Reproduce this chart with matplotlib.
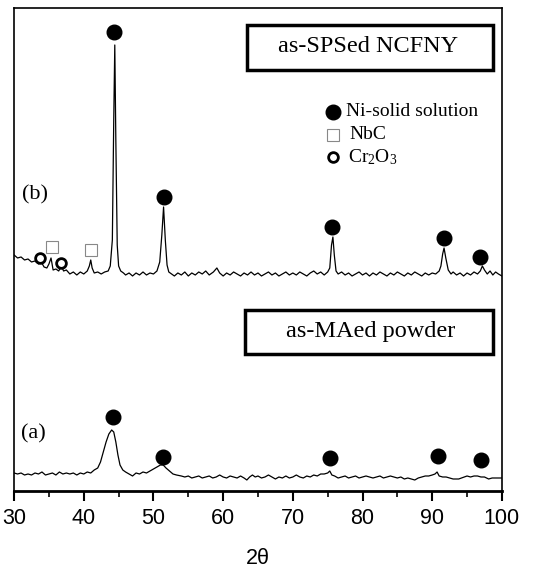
import numpy as np
import matplotlib
matplotlib.use('Agg')
import matplotlib.pyplot as plt
from matplotlib.patches import Rectangle

# --- pattern (b): as-SPSed NCFNY ---
two_theta_b = [30.0, 30.5, 31.0, 31.5, 32.0, 32.5, 33.0, 33.5, 33.9, 34.3, 34.7, 35.0, 35.3, 35.6,
               36.0, 36.4, 36.8, 37.1, 37.5, 38.0, 38.5, 39.0, 39.5, 40.0, 40.5, 40.8, 41.0, 41.2,
               41.5, 42.0, 42.5, 43.0, 43.5, 43.8, 44.1, 44.3, 44.45, 44.6, 44.8, 45.0, 45.3, 45.7,
               46.0, 46.5, 47.0, 47.5, 48.0, 48.5, 49.0, 49.5, 50.0, 50.5, 50.9, 51.2, 51.45, 51.7,
               51.95, 52.2, 52.6, 53.0, 53.5, 54.0, 54.5, 55.0, 55.5, 56.0, 56.5, 57.0, 57.5, 58.0,
               58.6, 59.1, 59.5, 60.0,
               60.5, 61.0, 61.5, 62.0, 62.5, 63.0, 63.5, 64.0, 64.5, 65.0, 65.5, 66.0, 66.5, 67.0,
               67.5, 68.0, 68.5, 69.0, 69.5, 70.0, 70.5, 71.0, 71.5, 72.0, 72.5, 73.0, 73.5, 74.0,
               74.5, 75.0, 75.3, 75.55, 75.75, 75.95, 76.2, 76.5,
               77.0, 77.5, 78.0, 78.5, 79.0, 79.5, 80.0, 80.5, 81.0, 81.5, 82.0, 82.5, 83.0, 83.5,
               84.0, 84.5, 85.0, 85.5, 86.0, 86.5, 87.0, 87.5, 88.0, 88.5, 89.0, 89.5, 90.0, 90.5,
               91.0, 91.25, 91.5, 91.7, 91.95, 92.3, 92.7, 93.0, 93.5, 94.0, 94.5, 95.0, 95.5, 96.0,
               96.5, 96.9, 97.2, 97.5, 97.9, 98.3, 98.7, 99.1, 99.5, 100.0]
intensity_b = [236, 233, 234, 231, 232, 229, 230, 227, 229, 224, 223, 227, 233, 221,
               222, 220, 225, 220, 221, 217, 219, 216, 219, 217, 220, 225, 231, 223,
               218, 219, 217, 219, 220, 225, 251, 371, 446, 351, 246, 225, 220, 218,
               216, 218, 215, 218, 216, 219, 216, 218, 217, 220, 229, 256, 284, 251,
               226, 219, 217, 215, 218, 216, 219, 215, 218, 216, 219, 217, 220, 216,
               219, 223, 218, 215,
               218, 216, 219, 217, 215, 218, 216, 219, 216, 218, 215, 217, 219, 216,
               218, 215, 217, 219, 216, 218, 216, 219, 217, 215, 218, 220, 217, 219,
               216, 219, 223, 246, 254, 236, 220, 217,
               219, 216, 218, 215, 217, 219, 216, 218, 215, 218, 216, 219, 217, 215,
               218, 216, 219, 217, 215, 218, 216, 219, 217, 215, 218, 216, 218, 217,
               220, 225, 237, 243, 233, 221, 217, 219, 216, 218, 215, 218, 216, 219,
               217, 220, 225, 221, 217, 220, 216, 219, 217, 215]

# --- pattern (a): as-MAed powder ---
two_theta_a = [30.0, 30.5, 31.0, 31.5, 32.0, 32.5, 33.0, 33.5, 34.0, 34.5, 35.0, 35.5, 36.0, 36.5,
               37.0, 37.5, 38.0, 38.5, 39.0, 39.5, 40.0, 40.5, 41.0, 41.5, 42.0, 42.4, 42.8, 43.2,
               43.6, 44.0, 44.3, 44.6, 44.9, 45.2, 45.6, 46.0, 46.5, 47.0, 47.5, 48.0, 48.5, 49.0,
               49.5, 50.0, 50.5, 51.0, 51.4, 51.8, 52.3, 52.8, 53.3, 54.0, 54.5, 55.0, 55.5, 56.0,
               56.5, 57.0, 57.5, 58.0, 58.5, 59.0, 59.5, 60.0, 60.5, 61.0, 61.5, 62.0, 62.5, 63.0,
               63.4, 63.8, 64.2, 64.6, 65.0, 65.5, 66.0, 66.5, 67.0, 67.5, 68.0, 68.5, 69.0, 69.5,
               70.0, 70.5, 71.0, 71.5, 72.0, 72.5, 73.0, 73.5, 74.0, 74.5, 75.0, 75.3, 75.6, 76.0,
               76.5, 77.0, 77.5, 78.0, 78.5, 79.0, 79.5, 80.0, 80.5, 81.0, 81.5, 82.0, 82.5, 83.0,
               83.5, 84.0, 84.5, 85.0, 85.5, 86.0, 86.5, 87.0, 87.5, 88.0, 88.5, 89.0, 89.5, 90.0,
               90.4, 90.7, 91.0, 91.5, 92.0, 92.5, 93.0, 93.5, 93.8, 94.2, 94.6, 95.0, 95.5, 96.0,
               96.5, 97.0, 97.5, 98.1, 98.6, 99.0, 99.5, 100.0]
intensity_a = [18, 17, 18, 16, 17, 16, 18, 17, 19, 16, 17, 18, 16, 19,
               17, 18, 17, 18, 16, 18, 17, 19, 18, 21, 23, 29, 39, 49,
               57, 61, 59, 49, 36, 26, 21, 19, 17, 15, 18, 17, 19, 18,
               20, 22, 24, 26, 26, 23, 20, 17, 16, 15, 14, 15, 13, 14,
               15, 13, 14, 15, 13, 14, 16, 14, 13, 15, 14, 13, 15, 13,
               11, 14, 16, 14, 15, 13, 14, 16, 14, 12, 14, 13, 15, 13,
               14, 16, 14, 13, 15, 14, 16, 15, 17, 17, 18, 20, 16, 15,
               13, 14, 15, 13, 14, 15, 13, 14, 15, 14, 13, 14, 15, 13,
               14, 15, 14, 13, 14, 12, 13, 12, 11, 13, 14, 15, 15, 16,
               17, 19, 15, 14, 14, 13, 12, 12, 12, 13, 14, 15, 14, 15,
               15, 14, 14, 12, 13, 13, 13, 13]

# phase markers
ni_b_x = [44.4, 51.5, 75.6, 91.7, 96.9]
ni_b_y = [459, 294, 264, 253, 234]
nbc_x = [35.4, 41.1]
nbc_y = [244, 241]
cr2o3_x = [33.7, 36.7]
cr2o3_y = [233, 228]
ni_a_x = [44.25, 51.3, 75.3, 90.8, 97.0]
ni_a_y = [74, 34, 33, 35, 31]

serif = 'Liberation Serif'
sans = 'Liberation Sans'
plt.rcParams['mathtext.fontset'] = 'custom'
plt.rcParams['mathtext.rm'] = serif

fig = plt.figure(figsize=(5.42, 5.70), dpi=100)
ax = fig.add_axes([0.026, 0.1386, 0.9, 0.8474])

ax.plot(two_theta_b, intensity_b, color='black', lw=0.9)
ax.plot(two_theta_a, intensity_a, color='black', lw=0.9)

ax.plot(ni_b_x, ni_b_y, 'o', color='black', ms=10.5)
ax.plot(ni_a_x, ni_a_y, 'o', color='black', ms=10.5)
ax.plot(nbc_x, nbc_y, 's', mfc='white', mec='#888888', mew=0.8, ms=9)
ax.plot(cr2o3_x, cr2o3_y, 'o', mfc='white', mec='black', mew=2, ms=7)

# legend drawn by hand
ax.plot(75.8, 379, 'o', color='black', ms=10.5)
ax.plot(75.7, 356, 's', mfc='white', mec='#888888', mew=0.8, ms=9)
ax.plot(75.8, 334, 'o', mfc='white', mec='black', mew=2, ms=7)
ax.text(77.6, 379, 'Ni-solid solution', family=serif, fontsize=14, va='center')
ax.text(78.1, 356, 'NbC', family=serif, fontsize=14, va='center')
ax.text(77.9, 334, r'$\mathrm{Cr_2O_3}$', fontsize=14, va='center')

# sample boxes
ax.add_patch(Rectangle((63.4, 421), 35.3, 45, fill=False, lw=2.5, ec='black'))
ax.text(80.8, 444, 'as-SPSed NCFNY', family=serif, fontsize=17.5, ha='center', va='center')
ax.add_patch(Rectangle((63.1, 137), 35.6, 44, fill=False, lw=2.5, ec='black'))
ax.text(81.2, 159, 'as-MAed powder', family=serif, fontsize=17.5, ha='center', va='center')

ax.text(31.2, 296, '(b)', family=serif, fontsize=16, va='center')
ax.text(31.0, 57, '(a)', family=serif, fontsize=16, va='center')

ax.set_xlim(30, 100)
ax.set_ylim(0, 483)
ax.set_yticks([])
ax.set_xticks(np.arange(30, 101, 10))
ax.set_xticks(np.arange(35, 100, 10), minor=True)
ax.tick_params(axis='x', which='major', direction='out', length=7, width=1.5, pad=5)
ax.tick_params(axis='x', which='minor', direction='out', length=4, width=1.2)
for lab in ax.get_xticklabels():
    lab.set_family(sans)
    lab.set_fontsize(15.5)
for side in ['left', 'right', 'top']:
    ax.spines[side].set_linewidth(1.2)
ax.spines['bottom'].set_linewidth(2)
ax.set_xlabel('2θ', family=sans, fontsize=15.5, labelpad=14)

fig.savefig('out.png', dpi=100)
